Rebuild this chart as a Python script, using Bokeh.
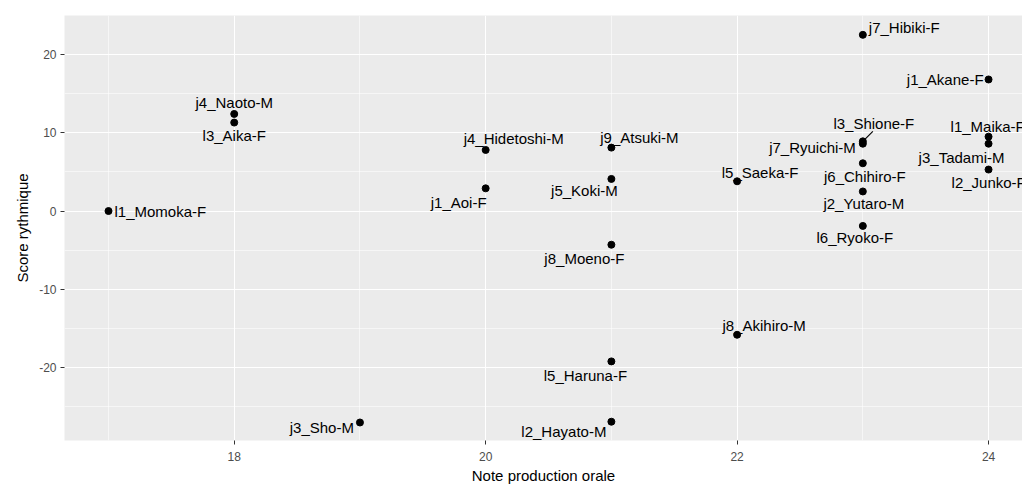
from bokeh.plotting import figure
from bokeh.models import ColumnDataSource, FixedTicker, Range1d
from bokeh.core.properties import value
from bokeh.embed import file_html
from bokeh.resources import INLINE

# ---- data ----
names = ["l1_Momoka-F", "j4_Naoto-M", "l3_Aika-F", "j3_Sho-M", "j4_Hidetoshi-M",
         "j1_Aoi-F", "j9_Atsuki-M", "j5_Koki-M", "j8_Moeno-F", "l5_Haruna-F",
         "l2_Hayato-M", "l5_Saeka-F", "j8_Akihiro-M", "j7_Hibiki-F", "j1_Akane-F",
         "l3_Shione-F", "j7_Ryuichi-M", "j6_Chihiro-F", "j2_Yutaro-M", "l6_Ryoko-F",
         "l1_Maika-F", "j3_Tadami-M", "l2_Junko-F"]
note_orale = [17, 18, 18, 19, 20, 20, 21, 21, 21, 21, 21, 22, 22, 23, 24,
              23, 23, 23, 23, 23, 24, 24, 24]
score_rythmique = [0.0, 12.4, 11.3, -27.0, 7.8, 2.9, 8.1, 4.1, -4.3, -19.2,
                   -26.9, 3.8, -15.8, 22.5, 16.8, 8.9, 8.6, 6.1, 2.5, -1.9,
                   9.5, 8.6, 5.3]
x_ticks = [18, 20, 22, 24]
y_ticks = [-20, -10, 0, 10, 20]
y_tick_labels = ["-20", "-10", "0", "10", "20"]

# ---- label placement (screen pixel offsets, repel-like) ----
lab_dx = [6, 0, 0, -6, 28, -27, 28, -27, -27, -26, -5, 23, 27, 6, -5,
          11, -7, 2, 1, -8, -38, -27, -37]
lab_dy = [0, -11, 13, 5, -11, 14, -10, 12, 14, 14, 10, -9, -9, -7, 0,
          -18, 4, 13, 12, 12, -10, 14, 13]
lab_align = ["left", "center", "center", "right", "center", "center", "center",
             "center", "center", "center", "right", "center", "center", "left",
             "right", "center", "right", "center", "center", "center", "left",
             "center", "left"]

FONT = "Liberation Sans"
x0, x1 = 16.65, 24.27
y0, y1 = -29.3, 24.97
W, H = 1022, 486
BL, BR, BT, BB = 64, 0, 15, 44

p = figure(width=W, height=H, output_backend="svg", toolbar_location=None,
           x_range=Range1d(x0, x1), y_range=Range1d(y0, y1),
           min_border_left=BL, min_border_right=BR, min_border_top=BT,
           min_border_bottom=BB)
p.background_fill_color = "#EBEBEB"
p.border_fill_color = "white"
p.outline_line_color = None

p.xaxis.ticker = FixedTicker(ticks=x_ticks, minor_ticks=[17, 19, 21, 23])
p.yaxis.ticker = FixedTicker(ticks=y_ticks, minor_ticks=[-25, -15, -5, 5, 15])
p.yaxis.major_label_overrides = {t: s for t, s in zip(y_ticks, y_tick_labels)}
for ax in (p.xaxis, p.yaxis):
    ax.axis_line_color = None
    ax.major_tick_line_color = "#333333"
    ax.major_tick_in = 0
    ax.major_tick_out = 4
    ax.minor_tick_line_color = None
    ax.major_label_text_font = FONT
    ax.major_label_text_font_size = "12px"
    ax.major_label_text_color = "#4D4D4D"
    ax.axis_label_text_font = FONT
    ax.axis_label_text_font_size = "15px"
    ax.axis_label_text_font_style = "normal"
    ax.axis_label_text_color = "black"
p.xaxis.axis_label = "Note production orale"
p.yaxis.axis_label = "Score rythmique"
p.xaxis.major_label_standoff = 7
p.yaxis.major_label_standoff = 4
p.xaxis.axis_label_standoff = 3
p.yaxis.axis_label_standoff = 5

for g in (p.xgrid, p.ygrid):
    g.grid_line_color = "white"
    g.grid_line_width = 1.1
    g.minor_grid_line_color = "white"
    g.minor_grid_line_width = 0.55

src = ColumnDataSource(dict(x=note_orale, y=score_rythmique, name=names,
                            dx=lab_dx, dy=lab_dy, align=lab_align))

# connector segment for l3_Shione-F (10 px right/up from its point)
fw = W - BL - BR
fh = H - BT - BB
i = names.index("l3_Shione-F")
p.segment(x0=[note_orale[i]], y0=[score_rythmique[i]],
          x1=[note_orale[i] + 10 * (x1 - x0) / fw],
          y1=[score_rythmique[i] + 10 * (y1 - y0) / fh],
          line_color="black", line_width=1.2)

p.scatter("x", "y", source=src, size=7, color="black")
p.text("x", "y", text="name", source=src, x_offset="dx", y_offset="dy",
       text_align="align", text_baseline="middle",
       text_font=value(FONT), text_font_size="15px", text_color="black")

open("out.html", "w").write(file_html(p, INLINE))
